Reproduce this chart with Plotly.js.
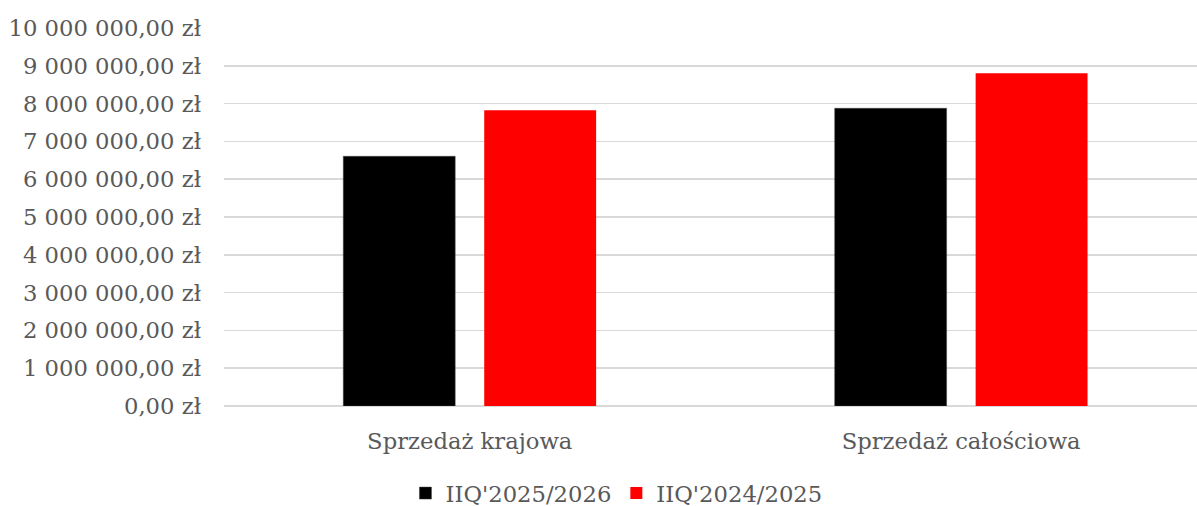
<!DOCTYPE html>
<html>
<head>
<meta charset="utf-8">
<script src="https://cdn.plot.ly/plotly-3.0.1.min.js"></script>
<style>html,body{margin:0;padding:0;background:#fff;}#chart{width:1197px;height:506px;}</style>
</head>
<body>
<div id="chart"></div>
<script>
const categories = ["Sprzedaż krajowa", "Sprzedaż całościowa"];
const seriesNames = ["IIQ'2025/2026", "IIQ'2024/2025"];
const values2025 = [6606000, 7876000];
const values2024 = [7822000, 8802000];
const yTickVals = [0, 1000000, 2000000, 3000000, 4000000, 5000000, 6000000, 7000000, 8000000, 9000000, 10000000];
const yTickText = ["0,00 zł", "1 000 000,00 zł", "2 000 000,00 zł", "3 000 000,00 zł", "4 000 000,00 zł", "5 000 000,00 zł", "6 000 000,00 zł", "7 000 000,00 zł", "8 000 000,00 zł", "9 000 000,00 zł", "10 000 000,00 zł"];

const font = {family: "DejaVu Serif, serif", size: 22.7, color: "#595959"};
const traces = [
  {type: "bar", name: seriesNames[0], x: [0, 1], y: values2025, marker: {color: "#000000", line: {color: "#404040", width: 0.5}}, hoverinfo: "none"},
  {type: "bar", name: seriesNames[1], x: [0, 1], y: values2024, marker: {color: "#ff0000"}, hoverinfo: "none"}
];
const layout = {
  width: 1197, height: 506,
  margin: {l: 224, r: 0, t: 28, b: 100},
  paper_bgcolor: "#fff", plot_bgcolor: "#fff",
  font: font,
  barmode: "group",
  bargap: 0.4264,
  bargroupgap: 0.206,
  xaxis: {
    range: [-0.5, 1.48],
    tickvals: [0, 1], ticktext: categories,
    showgrid: false, zeroline: false, showline: false, ticks: "",
    ticklabelstandoff: 19,
    tickfont: font
  },
  yaxis: {
    range: [0, 10000000],
    tickvals: yTickVals, ticktext: yTickText,
    showgrid: true, gridcolor: "#d9d9d9", gridwidth: 1.5,
    zeroline: true, zerolinecolor: "#d9d9d9", zerolinewidth: 1.5,
    showline: false, ticks: "",
    ticklabelstandoff: 22,
    tickfont: font
  },
  showlegend: true,
  legend: {
    orientation: "h",
    xref: "container", yref: "container",
    x: 0.515, xanchor: "center",
    y: 0.025, yanchor: "middle",
    font: font,
    itemwidth: 30,
    traceorder: "normal"
  }
};
Plotly.newPlot("chart", traces, layout, {staticPlot: true, displayModeBar: false});
</script>
</body>
</html>
